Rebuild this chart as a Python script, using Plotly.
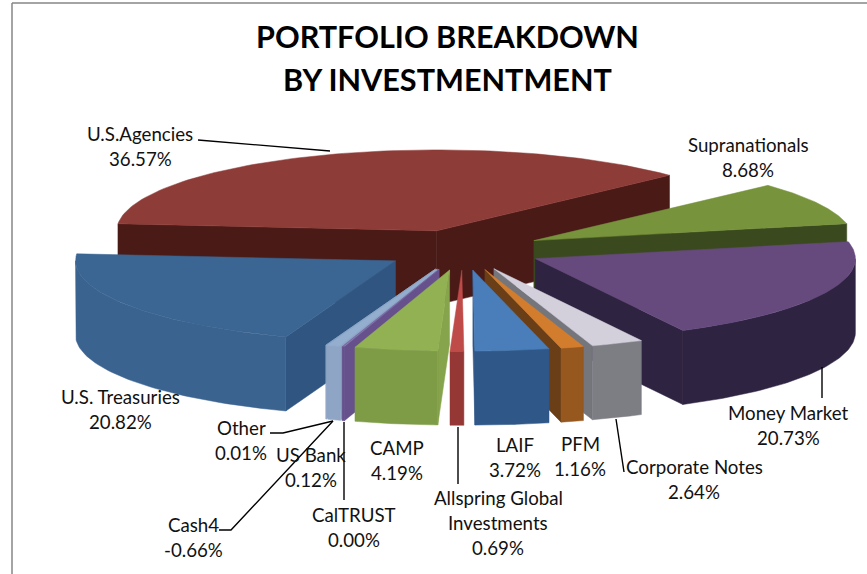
import numpy as np
import plotly.graph_objects as go

# ---- data (clockwise from the first slice) ----
names = ["U.S.Agencies", "Supranationals", "Money Market", "Corporate Notes", "PFM", "LAIF",
         "Allspring Global Investments", "CAMP", "US Bank", "CalTRUST", "Cash4", "Other", "U.S. Treasuries"]
values = [36.57, 8.68, 20.73, 2.64, 1.16, 3.72, 0.69, 4.19, 0.12, 0.00, -0.66, 0.01, 20.82]

# ---- styles ----
top_colors = ["#8E3C38", "#77933C", "#664A7E", "#D3D0DC", "#D27D2E", "#4A7EBB", "#BE4B48", "#91B152",
              "#7A62A0", "#8FA9CC", "#93AECF", "#93AECF", "#3B6592"]
rim_colors = ["#4A1A17", "#3B4A1E", "#2E2340", "#7D7D84", "#97581F", "#2F5788", "#953735", "#7E9C46",
              "#67518C", "#8FA5C5", "#8FA5C5", "#8FA5C5", "#3A6390"]
cut_colors = ["#4A1A17", "#3B4A1E", "#2E2340", "#75757C", "#6A3F18", "#2F5788", "#953735", "#86A44B",
              "#67518C", "#8FA5C5", "#8FA5C5", "#8FA5C5", "#2F5580"]
draw_order = [0, 1, 2, 12, 11, 10, 9, 8, 7, 3, 4, 5, 6]

# ---- projection of the 3-D pie ----
CX, CY = 463, 250
SX, SY = 320, 81
DEPTH = 74
EXPLODE = 0.25
START = -85.0


def project(theta_deg, r, mid_deg, drop=0.0):
    t, m = np.radians(theta_deg), np.radians(mid_deg)
    x = CX + SX * (EXPLODE * np.sin(m) + r * np.sin(t))
    y = CY - SY * (EXPLODE * np.cos(m) + r * np.cos(t)) + drop
    return x, y


def poly(fig, xs, ys, color):
    fig.add_trace(go.Scatter(x=list(xs), y=list(ys), mode="lines", fill="toself", fillcolor=color,
                             line=dict(color=color, width=0.5), hoverinfo="skip", showlegend=False))


fig = go.Figure()
sizes = np.abs(values)
bounds = START + np.concatenate([[0], np.cumsum(sizes)]) / sizes.sum() * 360

for i in draw_order:
    a, b = bounds[i], bounds[i + 1]
    mid = (a + b) / 2
    ax, ay = project(0, 0, mid)
    # visible cut faces
    for ang, visible in ((a, np.sin(np.radians(a)) < 0), (b, np.sin(np.radians(b)) > 0)):
        if visible:
            px, py = project(ang, 1, mid)
            poly(fig, [ax, px, px, ax, ax], [ay, py, py + DEPTH, ay + DEPTH, ay], cut_colors[i])
    # visible outer wall
    lo, hi = max(a, 90), min(b, 270)
    if hi > lo:
        th = np.linspace(lo, hi, 60)
        px, py = project(th, 1, mid)
        poly(fig, np.r_[px, px[::-1], px[0]], np.r_[py, py[::-1] + DEPTH, py[0]], rim_colors[i])
    # top face
    th = np.linspace(a, b, 90)
    px, py = project(th, 1, mid)
    poly(fig, np.r_[ax, px, ax], np.r_[ay, py, ay], top_colors[i])

# ---- leader lines ----
leaders = [
    ([198, 330], [140, 151]),
    ([822, 822], [367, 398]),
    ([616, 624], [419, 472]),
    ([458, 458], [427, 484]),
    ([344, 344], [422, 500]),
    ([219, 231, 333], [530, 530, 421]),
    ([270, 283, 333], [433, 433, 421]),
]
for lx, ly in leaders:
    fig.add_trace(go.Scatter(x=lx, y=ly, mode="lines", line=dict(color="black", width=1.4),
                             hoverinfo="skip", showlegend=False))

# ---- labels ----
pct = {n: f"{v:.2f}%" for n, v in zip(names, values)}
label_layout = [
    ("U.S.Agencies", ["U.S.Agencies"], 140, 134),
    ("Supranationals", ["Supranationals"], 748, 145),
    ("Money Market", ["Money Market"], 788, 413),
    ("Corporate Notes", ["Corporate Notes"], 694, 467),
    ("PFM", ["PFM"], 580, 444),
    ("LAIF", ["LAIF"], 515, 445),
    ("CAMP", ["CAMP"], 397, 448),
    ("Allspring Global Investments", ["Allspring Global", "Investments"], 498, 498),
    ("CalTRUST", ["CalTRUST"], 354, 515),
    ("US Bank", ["US Bank"], 311, 455),
    ("Other", ["Other"], 241, 428),
    ("Cash4", ["Cash4"], 193, 525),
    ("U.S. Treasuries", ["U.S. Treasuries"], 120, 397),
]
FONT = "Lato, Carlito, Calibri, sans-serif"
annotations = []
for key, lines, x, y in label_layout:
    for k, line in enumerate(lines + [pct[key]]):
        annotations.append(dict(x=x, y=y + k * 25, xref="x", yref="y", text=line, showarrow=False,
                                xanchor="center", yanchor="middle",
                                font=dict(family=FONT, size=18.7, color="#111111")))
for line, y in (("PORTFOLIO BREAKDOWN", 36), ("BY INVESTMENTMENT", 79)):
    annotations.append(dict(x=447, y=y, xref="x", yref="y", text=f"<b>{line}</b>", showarrow=False,
                            xanchor="center", yanchor="middle",
                            font=dict(family=FONT, size=30.6, color="black")))

fig.update_layout(
    width=867, height=574, margin=dict(l=0, r=0, t=0, b=0),
    paper_bgcolor="white", plot_bgcolor="white", showlegend=False,
    xaxis=dict(range=[0, 867], visible=False, fixedrange=True),
    yaxis=dict(range=[574, 0], visible=False, fixedrange=True),
    annotations=annotations,
    shapes=[
        dict(type="line", xref="x", yref="y", x0=12, x1=12, y0=3, y1=574, line=dict(color="#868686", width=1.5)),
        dict(type="line", xref="x", yref="y", x0=12, x1=867, y0=3, y1=3, line=dict(color="#868686", width=1.5)),
    ],
)
fig.write_html("out.html", config={"displayModeBar": False},
               post_script="document.body.style.margin='0';document.body.style.overflow='hidden';")
